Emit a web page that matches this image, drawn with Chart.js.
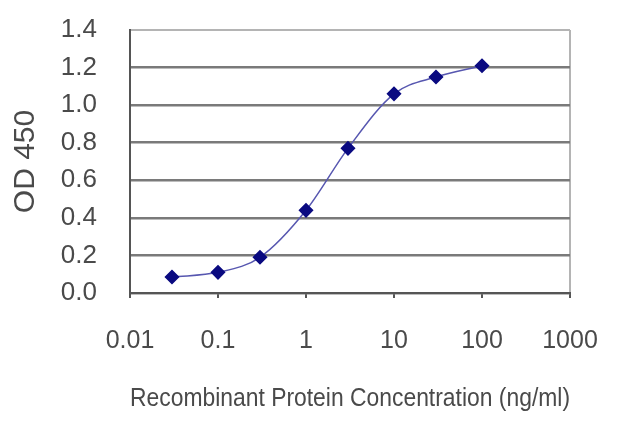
<!DOCTYPE html>
<html>
<head>
<meta charset="utf-8">
<script src="https://cdn.jsdelivr.net/npm/chart.js@4"></script>
<style>
  html, body { margin: 0; padding: 0; background: #fff; }
  #wrap { width: 640px; height: 427px; }
</style>
</head>
<body>
<div id="wrap"><canvas id="odChart" width="640" height="427"></canvas></div>
<script>
// concentración (ng/ml) y lectura OD 450
const concentrations = [0.03, 0.1, 0.3, 1, 3, 10, 30, 100];
const odValues = [0.085, 0.11, 0.19, 0.44, 0.77, 1.06, 1.15, 1.21];
const xTicks = [0.01, 0.1, 1, 10, 100, 1000];
const yTicks = [0, 0.2, 0.4, 0.6, 0.8, 1.0, 1.2, 1.4];

const fontFamily = "Liberation Sans, Arial, sans-serif";

let points = concentrations.map((c, i) => ({ x: c, y: odValues[i] }));

new Chart(document.getElementById("odChart").getContext("2d"), {
  type: "line",
  data: {
    datasets: [
      {
        data: points,
        borderColor: "#5757b0",
        borderWidth: 1.5,
        cubicInterpolationMode: "monotone",
        pointStyle: "rectRot",
        pointRadius: 6.5,
        pointBackgroundColor: "#0a0a80",
        pointBorderColor: "#0a0a80",
      },
    ],
  },
  options: {
    responsive: false,
    animation: false,
    layout: { padding: { left: 0, right: 70, top: 30, bottom: 0 } },
    plugins: { legend: { display: false }, tooltip: { enabled: false } },
    scales: {
      x: {
        type: "logarithmic",
        min: 0.01,
        max: 1000,
        afterBuildTicks: (axis) => {
          axis.ticks = xTicks.map((v) => ({ value: v }));
        },
        afterFit: (axis) => {
          axis.height = 134;
        },
        ticks: {
          color: "#4a4a4a",
          font: { family: fontFamily, size: 25 },
          padding: 28,
          maxRotation: 0,
          autoSkip: false,
          callback: (v) => String(v),
        },
        grid: {
          drawOnChartArea: true,
          color: (ctx) => (ctx.tick && ctx.tick.value === 1000 ? "#b4b4b4" : "rgba(0,0,0,0)"),
          lineWidth: 2,
          tickColor: "#555",
          tickLength: 5,
        },
        border: { display: true, color: "#555", width: 2 },
        title: {
          display: true,
          text: "Recombinant Protein Concentration (ng/ml)",
          color: "#4a4a4a",
          font: { family: fontFamily, size: 25 },
          padding: { top: 0, bottom: 13 },
        },
      },
      y: {
        min: 0,
        max: 1.4,
        afterBuildTicks: (axis) => {
          axis.ticks = yTicks.map((v) => ({ value: v }));
        },
        afterFit: (axis) => {
          axis.width = 130;
          // sin margen extra arriba/abajo, el área la fija layout.padding
          axis.paddingTop = 0;
          axis.paddingBottom = 0;
        },
        ticks: {
          color: "#4a4a4a",
          font: { family: fontFamily, size: 26 },
          padding: 33,
          callback: (v) => v.toFixed(1),
        },
        grid: {
          color: (ctx) => (ctx.tick && ctx.tick.value === 1.4 ? "#b4b4b4" : "#7a7a7a"),
          lineWidth: (ctx) => (ctx.tick && ctx.tick.value === 1.4 ? 2 : 2.5),
          drawTicks: false,
        },
        border: { display: true, color: "#555", width: 2 },
        title: {
          display: true,
          text: "OD 450",
          color: "#4a4a4a",
          font: { family: fontFamily, size: 30 },
          padding: { top: 8, bottom: 0 },
        },
      },
    },
  },
});
</script>
</body>
</html>
